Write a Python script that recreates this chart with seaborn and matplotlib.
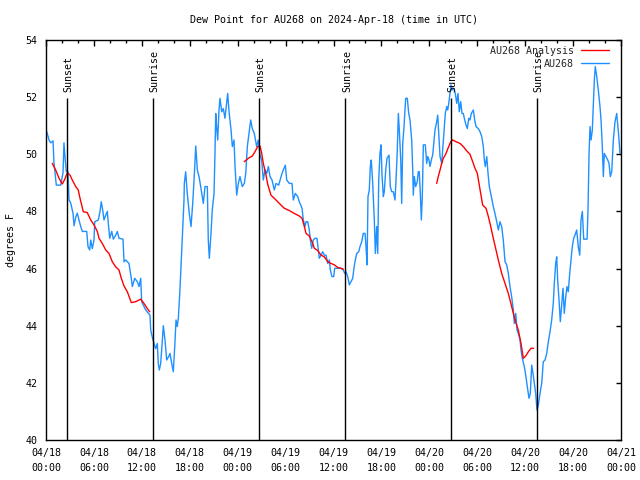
import numpy as np
import pandas as pd
import matplotlib
matplotlib.use("Agg")
import matplotlib.pyplot as plt
from matplotlib.lines import Line2D
from matplotlib.ticker import MultipleLocator
import seaborn as sns

# ---------------- data (hours since 04/18 00:00 UTC, dew point degF) ----------------
blue_h = [0.10, 0.38, 0.59, 0.88, 1.00, 1.29, 1.84, 2.13, 2.25, 2.38, 2.54, 2.75, 2.88, 3.09, 3.38, 3.51,
          3.72, 3.92, 4.13, 4.35, 4.55, 5.10, 5.26, 5.47, 5.60, 5.80, 6.01, 6.10, 6.55, 6.76, 6.92, 7.10,
          7.26, 7.48, 7.68, 7.80, 7.98, 8.23, 8.43, 8.73, 8.93, 9.14, 9.64, 9.77, 9.98, 10.39, 10.68, 10.81,
          11.11, 11.43, 11.65, 11.86, 11.98, 12.27, 12.48, 13.02, 13.11, 13.31, 13.52, 13.74, 13.94, 14.06,
          14.19, 14.36, 14.53, 14.69, 14.90, 15.11, 15.36, 15.53, 15.74, 15.94, 16.12, 16.28, 16.44, 16.57,
          16.78, 16.94, 17.12, 17.28, 17.32, 17.49, 17.69, 17.94, 18.16, 18.37, 18.57, 18.75, 18.95, 19.16,
          19.37, 19.70, 19.91, 20.20, 20.32, 20.45, 20.66, 20.82, 21.04, 21.16, 21.25, 21.38, 21.50, 21.66,
          21.79, 22.00, 22.20, 22.41, 22.63, 22.75, 22.92, 23.17, 23.33, 23.54, 23.67, 23.88, 24.08, 24.29,
          24.58, 24.83, 25.01, 25.21, 25.42, 25.63, 25.83, 26.08, 26.38, 26.58, 26.80, 27.01, 27.21, 27.42,
          27.64, 27.84, 28.05, 28.30, 28.59, 28.80, 29.14, 29.43, 29.71, 29.97, 30.14, 30.47, 30.80, 30.97,
          31.22, 31.52, 31.72, 32.06, 32.22, 32.43, 32.56, 32.77, 32.97, 33.10, 33.27, 33.47, 33.68, 33.93,
          34.10, 34.22, 34.44, 34.65, 34.85, 35.06, 35.28, 35.48, 35.60, 35.81, 36.03, 36.15, 36.94, 37.23,
          37.40, 37.57, 37.78, 37.98, 38.19, 38.41, 38.53, 38.69, 38.91, 39.16, 39.32, 39.53, 39.73, 39.95,
          40.07, 40.20, 40.32, 40.48, 40.61, 40.73, 40.91, 41.11, 41.24, 41.41, 41.54, 41.66, 41.82, 41.95,
          42.07, 42.24, 42.36, 42.54, 42.70, 42.95, 43.11, 43.29, 43.49, 43.70, 43.83, 43.99, 44.12, 44.24,
          44.42, 44.54, 44.67, 44.83, 45.04, 45.24, 45.42, 45.58, 45.79, 45.92, 45.99, 46.12, 46.29, 46.49,
          46.62, 46.74, 46.87, 47.00, 47.12, 47.25, 47.50, 47.67, 47.80, 47.96, 48.08, 48.30, 48.42, 48.59,
          48.71, 48.92, 49.05, 49.17, 49.34, 49.55, 49.67, 49.84, 50.00, 50.18, 50.30, 50.43, 50.59, 50.71,
          50.88, 51.09, 51.25, 51.43, 51.59, 51.75, 51.93, 52.09, 52.25, 52.43, 52.59, 52.76, 52.93, 53.09,
          53.26, 53.51, 53.68, 53.85, 54.13, 54.35, 54.56, 54.76, 54.89, 55.01, 55.19, 55.35, 55.51, 55.69,
          55.85, 56.01, 56.22, 56.44, 56.64, 56.85, 57.06, 57.26, 57.48, 57.69, 57.89, 58.10, 58.31, 58.52,
          58.64, 58.82, 58.98, 59.14, 59.36, 59.48, 59.64, 59.89, 60.07, 60.27, 60.48, 60.64, 60.82, 60.98,
          61.15, 61.32, 61.48, 61.65, 61.86, 62.07, 62.27, 62.49, 62.70, 62.90, 63.11, 63.32, 63.52, 63.65,
          63.82, 63.95, 64.07, 64.24, 64.40, 64.58, 64.74, 64.90, 65.08, 65.24, 65.40, 65.58, 65.74, 65.90,
          66.08, 66.24, 66.45, 66.65, 66.83, 66.99, 67.16, 67.33, 67.75, 67.87, 68.00, 68.12, 68.25, 68.41,
          68.53, 68.66, 68.78, 68.96, 69.16, 69.37, 69.50, 69.66, 69.79, 69.91, 70.12, 70.34, 70.50, 70.66,
          70.84, 71.04, 71.25, 71.46, 71.67, 71.88]
blue_v = [50.79, 50.50, 50.40, 50.47, 49.70, 48.92, 48.92, 49.35, 50.40, 49.90, 49.40, 49.40, 48.40, 48.30, 47.94, 47.50,
          47.80, 47.94, 47.70, 47.47, 47.30, 47.30, 46.77, 46.65, 47.00, 46.70, 47.00, 47.64, 47.70, 48.00, 48.34, 48.05,
          47.70, 47.87, 48.00, 47.58, 47.06, 47.30, 47.03, 47.17, 47.30, 47.06, 47.03, 46.24, 46.30, 46.18, 45.66, 45.37,
          45.66, 45.54, 45.37, 45.66, 44.84, 44.67, 44.55, 44.37, 43.85, 43.60, 43.38, 43.20, 43.38, 42.68,
          42.45, 42.68, 43.33, 44.00, 43.50, 42.80, 42.92, 43.03, 42.68, 42.39, 43.27, 44.20, 43.97, 44.26,
          45.30, 46.30, 47.47, 48.40, 48.98, 49.39, 48.63, 47.93, 47.47, 48.28, 49.27, 50.29, 49.45, 49.22,
          48.87, 48.28, 48.87, 48.87, 47.00, 46.36, 47.23, 48.05, 48.63, 50.03, 51.43, 50.90, 50.50, 51.55,
          51.96, 51.49, 51.60, 51.26, 51.84, 52.13, 51.49, 50.85, 50.27, 50.50, 49.57, 48.57, 48.98, 49.22,
          48.87, 48.98, 49.33, 50.27, 50.73, 51.20, 50.90, 50.73, 50.27, 50.50, 49.97, 49.80, 49.10, 49.45,
          49.33, 49.57, 49.22, 49.10, 48.75, 48.98, 48.92, 49.22, 49.45, 49.62, 49.10, 48.98, 48.98, 48.40,
          48.63, 48.52, 48.34, 48.11, 47.70, 47.47, 47.64, 47.64, 47.35, 47.00, 46.71, 47.00, 47.06, 47.06,
          46.65, 46.36, 46.47, 46.59, 46.47, 46.47, 46.18, 46.30, 45.95, 45.72, 45.72, 46.01, 46.01, 45.95,
          45.83, 45.89, 45.72, 45.43, 45.54, 45.66, 45.95, 46.24, 46.53, 46.59, 46.77, 46.94, 47.23, 47.23,
          46.77, 46.13, 48.52, 48.75, 49.57, 49.80, 48.98, 47.70, 46.53, 47.47, 46.53, 49.10, 50.03, 50.33,
          49.30, 48.52, 48.69, 49.45, 49.86, 49.97, 48.87, 48.69, 48.69, 48.40, 49.10, 50.15, 51.43, 50.85,
          49.80, 48.28, 50.38, 50.97, 51.96, 51.96, 51.43, 51.20, 50.50, 49.45, 48.57, 49.22, 48.87, 49.04,
          49.39, 49.39, 48.63, 47.70, 48.52, 50.33, 50.33, 49.68, 49.92, 49.80, 49.57, 49.86, 49.97, 50.50,
          50.85, 51.14, 51.37, 50.79, 49.92, 49.68, 50.15, 50.85, 51.43, 51.67, 51.55, 51.78, 52.13, 52.43,
          52.25, 52.31, 52.13, 51.78, 52.13, 51.49, 51.84, 51.43, 51.43, 51.20, 51.03, 50.90, 51.26, 51.20,
          51.43, 51.55, 51.20, 50.97, 50.90, 50.79, 50.62, 50.27, 49.80, 49.57, 49.92, 49.33, 48.87, 48.63,
          48.40, 48.17, 47.93, 47.64, 47.35, 47.64, 47.47, 47.00, 46.24, 46.13, 45.83, 45.37, 45.01, 44.55,
          44.08, 44.43, 43.85, 43.73, 43.50, 43.15, 42.86, 42.57, 42.27, 41.86, 41.46, 41.63, 42.62, 42.33,
          41.98, 41.63, 41.05, 41.22, 41.63, 41.98, 42.74, 42.80, 43.03, 43.44, 43.79, 44.20, 44.78, 45.48,
          46.18, 46.41, 45.60, 44.90, 44.14, 44.78, 45.31, 44.43, 45.01, 45.37, 45.19, 45.83, 46.30, 46.77,
          47.06, 47.17, 47.35, 46.77, 46.47, 47.70, 48.00, 47.03, 47.03, 48.05, 50.03, 50.97, 50.50, 50.85,
          51.67, 52.60, 53.07, 52.72, 52.25, 51.67, 51.20, 50.27, 49.22, 50.03, 49.92, 49.80, 49.68, 49.22,
          49.39, 50.50, 51.14, 51.43, 50.79, 50.03]

red1_h = [0.79, 1.21, 1.63, 2.04, 2.34, 2.67, 3.01, 3.29, 3.72, 4.04, 4.26, 4.47, 4.67, 5.17, 5.60, 6.01,
          6.42, 6.64, 7.05, 7.48, 7.89, 8.30, 8.73, 9.14, 9.43, 9.77, 10.18, 10.68, 11.23, 11.86, 12.27, 12.68, 12.99]
red1_v = [49.68, 49.45, 49.16, 48.96, 49.12, 49.36, 49.27, 49.10, 48.87, 48.75, 48.46, 48.22, 47.99, 47.96, 47.70, 47.53,
          47.30, 47.06, 46.88, 46.65, 46.53, 46.24, 46.06, 45.95, 45.66, 45.39, 45.19, 44.81, 44.84, 44.93, 44.78, 44.60, 44.49]
red2_h = [24.83, 25.33, 25.83, 26.17, 26.51, 26.80, 27.01, 27.21, 27.51, 27.76, 28.17, 28.80, 29.43, 29.84, 30.47, 31.09,
          31.72, 32.06, 32.35, 32.56, 32.97, 33.31, 33.60, 34.02, 34.44, 34.85, 35.28, 35.69, 36.10, 36.53, 36.94, 37.23]
red2_v = [49.74, 49.86, 49.94, 50.09, 50.27, 50.29, 50.03, 49.68, 49.33, 48.95, 48.57, 48.40, 48.22, 48.11, 48.03, 47.93,
          47.84, 47.76, 47.47, 47.23, 47.14, 46.94, 46.71, 46.63, 46.47, 46.41, 46.24, 46.18, 46.13, 46.04, 46.01, 45.98]
red3_h = [48.92, 49.12, 49.34, 49.55, 49.75, 50.09, 50.38, 50.68, 50.93, 51.34, 51.84, 52.25, 52.68, 53.09, 53.43, 53.72,
          54.01, 54.22, 54.43, 54.68, 55.10, 55.39, 55.69, 56.01, 56.35, 56.64, 57.06, 57.48, 57.89, 58.31, 58.73, 59.14,
          59.48, 59.77, 60.07, 60.40, 60.74, 61.07]
red3_v = [48.98, 49.22, 49.45, 49.68, 49.86, 50.03, 50.24, 50.44, 50.50, 50.44, 50.38, 50.27, 50.12, 50.00, 49.74, 49.51,
          49.33, 48.98, 48.63, 48.22, 48.11, 47.82, 47.47, 47.06, 46.65, 46.30, 45.83, 45.48, 45.13, 44.67, 44.20, 43.85,
          43.38, 42.86, 42.94, 43.09, 43.21, 43.21]

event_h = [2.63, 13.40, 26.67, 37.50, 50.71, 61.42]
event_names = ["Sunset", "Sunrise", "Sunset", "Sunrise", "Sunset", "Sunrise"]

xtick_h = [0, 6, 12, 18, 24, 30, 36, 42, 48, 54, 60, 66, 72]
xtick_labels = ["04/18\n00:00", "04/18\n06:00", "04/18\n12:00", "04/18\n18:00",
                "04/19\n00:00", "04/19\n06:00", "04/19\n12:00", "04/19\n18:00",
                "04/20\n00:00", "04/20\n06:00", "04/20\n12:00", "04/20\n18:00",
                "04/21\n00:00"]
ytick_v = [40, 42, 44, 46, 48, 50, 52, 54]

title = "Dew Point for AU268 on 2024-Apr-18 (time in UTC)"
series_names = ["AU268 Analysis", "AU268"]

# ---------------- styling ----------------
sns.set_theme(style="white")
plt.rcParams["font.family"] = ["DejaVu Sans Mono"]
FS = 7.2
BLUE = "#1E90FF"
RED = "#FF0000"

fig = plt.figure(figsize=(6.4, 4.8), dpi=100)
ax = fig.add_axes([46 / 640, 1 - 440 / 480, (621 - 46) / 640, 400 / 480])

blue_df = pd.DataFrame({"h": blue_h, "v": blue_v})
red_df = pd.concat([
    pd.DataFrame({"h": red1_h, "v": red1_v, "seg": 1}),
    pd.DataFrame({"h": red2_h, "v": red2_v, "seg": 2}),
    pd.DataFrame({"h": red3_h, "v": red3_v, "seg": 3}),
], ignore_index=True)

sns.lineplot(data=red_df, x="h", y="v", units="seg", estimator=None, sort=False,
             color=RED, lw=1.0, ax=ax, legend=False, zorder=3)
sns.lineplot(data=blue_df, x="h", y="v", estimator=None, sort=False,
             color=BLUE, lw=1.0, ax=ax, legend=False, zorder=2)

ax.vlines(event_h, 40, 51.97, color="black", lw=1.0, zorder=4)
for h, name in zip(event_h, event_names):
    ax.text(h + 0.2, 52.18, name, rotation=90, ha="center", va="bottom",
            fontsize=FS, color="black", zorder=5)

ax.set_xlim(0, 72)
ax.set_ylim(40, 54)
ax.set_xticks(xtick_h)
ax.set_xticklabels(xtick_labels)
for t in ax.get_xticklabels():
    t.set_linespacing(1.55)
ax.xaxis.set_minor_locator(MultipleLocator(2))
ax.set_yticks(ytick_v)
ax.set_yticklabels([str(v) for v in ytick_v])

ax.tick_params(axis="both", which="both", direction="in", top=True, right=True,
               labelsize=FS, colors="black", width=1.0)
ax.tick_params(axis="x", which="major", length=4.5, pad=6)
ax.tick_params(axis="x", which="minor", length=2.2)
ax.tick_params(axis="y", which="major", length=3.5, pad=6)
for s in ax.spines.values():
    s.set_color("black")
    s.set_linewidth(1.0)

ax.set_xlabel("")
ax.set_ylabel("degrees F", fontsize=FS, color="black", labelpad=7)
ax.set_title(title, fontsize=FS, color="black", pad=12)

handles = [Line2D([], [], color=RED, lw=1.0), Line2D([], [], color=BLUE, lw=1.0)]
ax.legend(handles, series_names, loc="upper right", frameon=False, markerfirst=False,
          fontsize=FS, handlelength=2.8, handletextpad=0.7, labelspacing=0.28,
          borderaxespad=0.0, borderpad=0.0,
          bbox_to_anchor=(563 / 575, 1 - 6 / 400))

fig.savefig("out.png", dpi=100)
